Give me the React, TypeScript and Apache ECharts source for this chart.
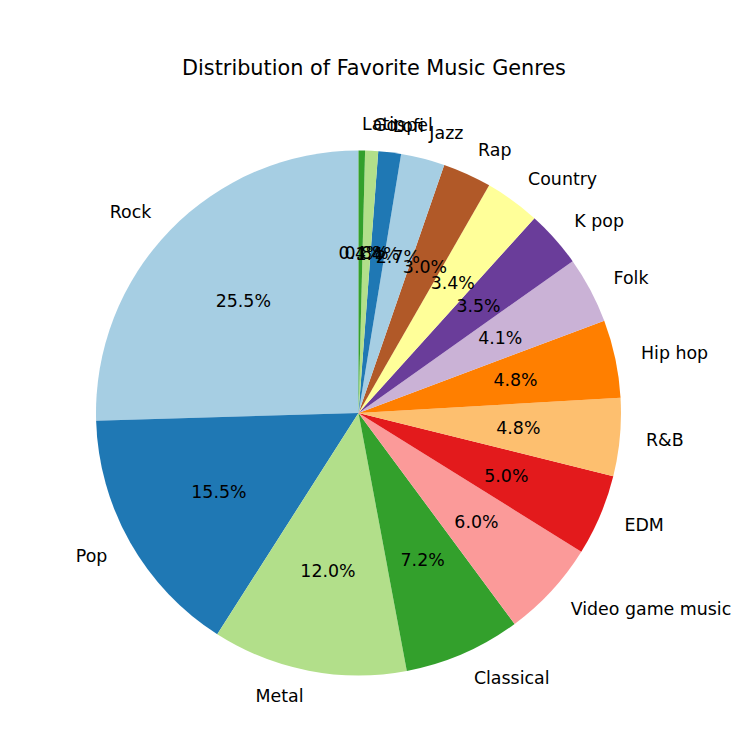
import React, { useEffect, useRef } from "react";
import * as echarts from "echarts";

const genres = [
  "Rock", "Pop", "Metal", "Classical", "Video game music", "EDM", "R&B", "Hip hop",
  "Folk", "K pop", "Country", "Rap", "Jazz", "Lofi", "Gospel", "Latin",
];
const shares = [25.5, 15.5, 12.0, 7.2, 6.0, 5.0, 4.8, 4.8, 4.1, 3.5, 3.4, 3.0, 2.7, 1.4, 0.8, 0.4];
const palette = [
  "#a6cee3", "#1f78b4", "#b2df8a", "#33a02c", "#fb9a99", "#e31a1c", "#fdbf6f", "#ff7f00",
  "#cab2d6", "#6a3d9a", "#ffff99", "#b15928",
];
const chartTitle = "Distribution of Favorite Music Genres";

const FONT = "DejaVu Sans";
const CX = 358.5;
const CY = 413;
const R = 262.5;

export default function App() {
  const ref = useRef<HTMLDivElement>(null);
  useEffect(() => {
    document.body.style.margin = "0";
    const chart = echarts.init(ref.current!, undefined, { renderer: "svg" });
    const data = genres.map((g, i) => ({
      name: g,
      value: shares[i],
      itemStyle: { color: palette[i % palette.length] },
    }));
    chart.setOption({
      animation: false,
      backgroundColor: "#ffffff",
      title: {
        text: chartTitle,
        left: "center",
        top: 52,
        textStyle: { fontFamily: FONT, fontSize: 20.8, fontWeight: "normal", color: "#000" },
      },
      series: [
        {
          type: "pie",
          center: [CX, CY],
          radius: [0, R],
          startAngle: 90,
          clockwise: false,
          avoidLabelOverlap: false,
          silent: true,
          minShowLabelAngle: 0,
          labelLayout: { hideOverlap: false },
          itemStyle: { borderWidth: 0 },
          label: {
            show: true,
            position: "outside",
            alignTo: "none",
            distanceToLabelLine: 0,
            fontFamily: FONT,
            fontSize: 17.4,
            color: "#000",
            formatter: "{b}",
          },
          labelLine: { show: false, length: R * 0.1, length2: 0 },
          emphasis: { disabled: true },
          data,
        },
        {
          type: "pie",
          center: [CX, CY],
          radius: [0, R * 1.2],
          startAngle: 90,
          clockwise: false,
          avoidLabelOverlap: false,
          silent: true,
          minShowLabelAngle: 0,
          labelLayout: { hideOverlap: false },
          z: 3,
          itemStyle: { color: "rgba(0,0,0,0)", borderWidth: 0 },
          label: {
            show: true,
            position: "inside",
            fontFamily: FONT,
            fontSize: 17.4,
            color: "#000",
            formatter: (p: any) => `${Number(p.value).toFixed(1)}%`,
          },
          labelLine: { show: false },
          emphasis: { disabled: true },
          data: genres.map((g, i) => ({ name: g, value: shares[i] })),
        },
      ],
    });
    return () => chart.dispose();
  }, []);
  return <div ref={ref} style={{ width: 748, height: 748 }} />;
}
